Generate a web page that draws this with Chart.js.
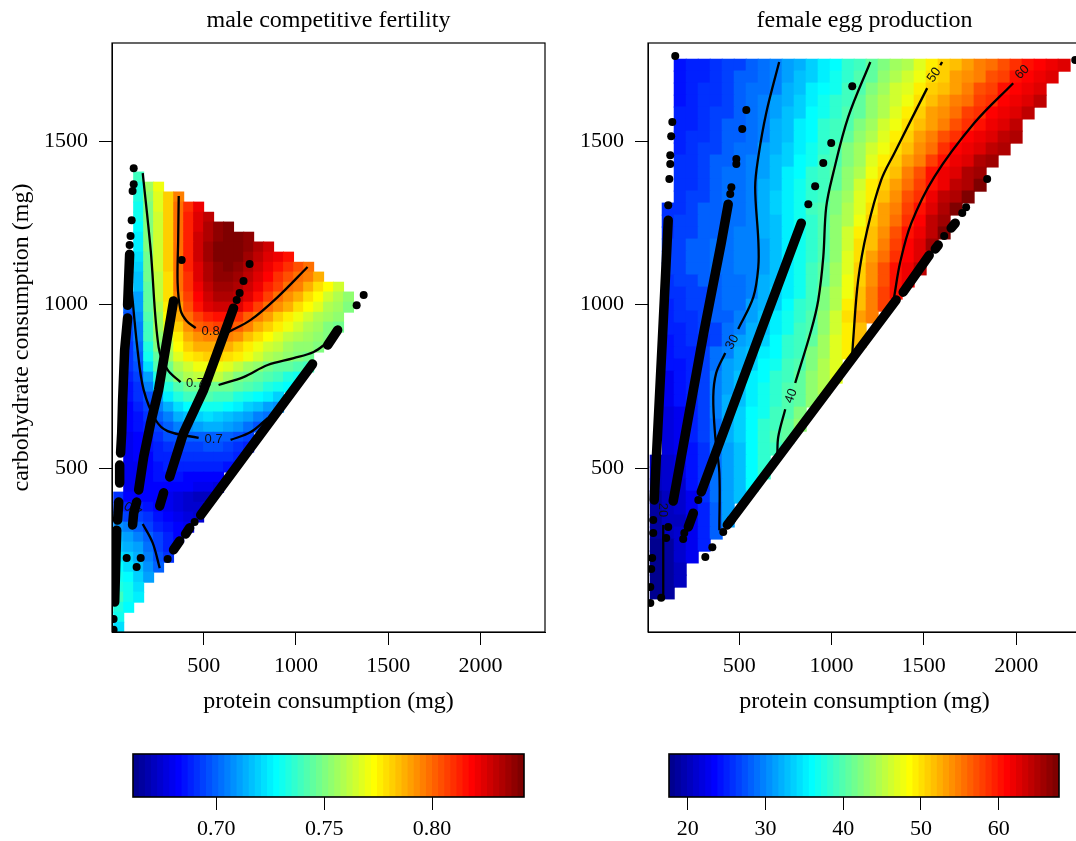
<!DOCTYPE html>
<html><head><meta charset="utf-8">
<script src="https://cdn.jsdelivr.net/npm/chart.js@4/dist/chart.umd.min.js"></script>
<style>html,body{margin:0;padding:0;background:#fff;width:1076px;height:841px;overflow:hidden}
canvas{position:absolute;display:block}</style></head><body>
<canvas id="male" width="657" height="720" style="left:0;top:0"></canvas>
<canvas id="female" width="657" height="720" style="left:536px;top:0"></canvas>
<canvas id="maleBar" width="420" height="101" style="left:120px;top:740px"></canvas>
<canvas id="femaleBar" width="420" height="101" style="left:656px;top:740px"></canvas>
<script>
const xTicks=[500,1000,1500,2000];
const yTicks=[500,1000,1500];
const maleBarTicks=[0.70,0.75,0.80];
const femaleBarTicks=[20,30,40,50,60];
const maleRange=[0.6614,0.8426];
const femaleRange=[17.6,67.76];
// heat grid, protein (mg) columns and carbohydrate (mg) rows
const maleCols=[40,94,148,202,256,310,365,419,473,527,581,635,690,744,798,852,906,960,1015,1069,1123,1177,1231,1285];
const maleRows=[1390,1359,1329,1298,1267,1237,1206,1176,1145,1114,1084,1053,1023,992,961,931,900,870,839,809,778,747,717,686,656,625,594,564,533,503,472,441,411,380,350,319,288,258,227,197,166,135,105,74,44,13];
// male fertility, thousandths
const maleHeat=[
[null,null,738],
[null,null,735,755,770],
[null,null,733,752,768,782,797],
[null,null,732,751,767,782,798,810,820],
[null,null,730,751,766,782,798,812,823,830],
[null,null,728,751,766,782,798,813,825,833,838,840],
[null,null,726,750,766,782,798,813,826,834,839,842,841,838],
[null,null,724,750,765,782,798,813,826,835,840,842,841,838,832,828],
[null,null,722,749,765,781,799,813,826,835,840,841,840,836,830,825,820,815],
[null,null,720,748,764,781,799,813,825,834,839,840,838,833,827,821,816,810,805,800],
[null,null,718,748,763,780,799,811,823,832,837,838,836,831,824,818,810,805,800,795,788],
[null,null,716,746,762,779,798,810,821,830,835,836,833,828,820,813,806,800,795,788,780,772,765],
[null,null,712,745,761,778,795,808,818,827,832,833,829,823,815,807,800,793,786,780,772,765,758,752],
[null,700,710,744,760,775,790,804,815,823,828,828,824,816,807,799,793,786,780,773,767,760,755,750],
[null,698,708,742,757,772,788,799,808,813,815,815,811,802,795,789,783,776,770,765,760,755,752],
[null,696,706,740,755,768,782,793,801,805,806,806,802,795,787,781,776,770,764,759,755,751,748],
[null,694,704,738,752,764,777,787,794,796,797,796,792,785,778,773,768,763,758,755,752,750],
[null,692,702,735,750,760,772,781,786,788,788,787,782,776,771,766,761,757,754,752,751],
[null,690,700,730,745,756,767,775,779,781,781,779,775,770,765,760,756,753,751,749],
[null,690,697,722,742,749,758,766,770,771,770,767,762,757,752,749,746,744,742,740],
[null,688,694,712,733,743,752,758,762,763,762,757,751,747,744,741,738,735,732],
[null,686,692,705,722,734,743,747,749,749,749,748,746,742,738,735,731,728],
[null,685,690,698,712,724,733,738,740,741,740,738,735,731,727,724,720],
[null,684,688,695,705,714,723,727,730,731,730,728,724,720,716,712,708],
[null,683,686,690,699,706,713,717,720,721,720,718,714,710,706,702],
[null,682,685,688,695,700,705,709,712,713,713,711,707,702,698],
[null,681,684,686,691,696,698,699,700,701,701,700,698,695],
[null,681,683,685,689,692,693,694,695,696,696,695,692,688],
[null,680,682,684,687,689,690,690,691,691,691,690,688],
[null,680,681,683,686,687,687,687,687,687,687,685],
[null,680,681,682,685,685,685,684,683,683,682],
[null,680,681,682,684,684,683,682,680,679,678],
[690,682,682,683,682,680,678,675,672,672],
[695,688,688,686,684,681,678,675,673],
[700,695,695,690,686,683,680,677,675],
[708,704,701,694,689,685,682,679],
[714,710,706,700,693,688,684],
[718,715,710,703,695,689],
[722,719,713,706,697,690],
[727,723,716,708,700],
[731,727,719,710],
[735,730,722],
[738,732,724],
[735,729],
[730],
[722]];
const femaleCols=[50,115,180,245,310,375,440,505,570,635,700,765,830,895,960,1025,1090,1155,1220,1285,1350,1415,1480,1545,1610,1675,1740,1805,1870,1935,2000,2065,2130,2195,2260];
const femaleRows=[1732,1696,1659,1622,1586,1549,1512,1476,1439,1402,1365,1329,1292,1255,1219,1182,1145,1109,1072,1035,998,962,925,888,852,815,778,742,705,668,631,595,558,521,485,448,411,375,338,301,264,228,191,154,118];
const femaleHeat=[
[null,null,24,25,25,26,27,27,28,29,30,31,32,34,35,36,38,39,41,42,44,45,47,49,51,52,53,55,56,57,59,60,61,62,63],
[null,null,24,25,25,26,27,28,28,29,30,31,33,34,35,37,38,40,41,43,45,46,48,50,51,53,54,55,57,58,60,61,62,63],
[null,null,24,25,26,26,27,28,29,29,30,32,33,35,36,37,39,40,42,44,46,47,49,51,52,53,55,57,58,60,61,62,63],
[null,null,24,25,26,26,27,28,29,30,31,32,34,35,37,38,39,41,43,45,46,48,50,52,53,55,56,58,59,61,62,63,64],
[null,null,25,25,26,27,27,28,29,30,31,33,34,36,37,38,40,41,43,45,47,49,51,53,54,56,58,59,61,62,63,64],
[null,null,25,25,26,27,28,28,29,30,32,33,35,36,38,39,40,42,44,46,48,50,52,53,55,57,59,60,62,63,64],
[null,null,25,26,26,27,28,28,29,30,32,33,35,36,38,39,41,43,45,47,49,51,53,55,57,59,61,62,63,64,65],
[null,null,25,26,27,27,28,29,29,31,32,34,35,37,38,40,42,44,46,48,50,52,54,56,59,61,62,63,64,65],
[null,null,26,26,27,28,28,29,30,31,33,34,36,37,39,40,42,44,47,49,51,53,55,58,60,62,63,65,66],
[null,null,26,26,27,28,29,29,30,31,33,35,36,38,39,41,43,45,48,50,52,55,57,60,62,63,65,66],
[null,null,26,26,27,28,29,29,30,32,33,35,37,38,39,41,43,46,49,51,53,56,58,60,62,64,65,67],
[null,null,26,27,27,28,29,29,30,32,34,35,37,38,39,42,44,47,49,52,54,57,59,62,64,65,67],
[null,26,26,27,28,28,29,29,30,32,34,35,37,39,40,42,45,47,50,53,55,58,60,63,65,67],
[null,26,27,27,28,28,29,29,30,32,33,35,37,38,40,43,45,48,51,53,56,59,61,64,66],
[null,26,27,27,28,28,29,30,30,32,33,35,37,38,40,43,46,49,52,54,57,60,62,64,67],
[null,27,27,28,28,29,29,30,30,31,33,35,37,38,40,43,46,50,52,55,58,61,63,66],
[null,27,27,28,28,29,29,30,30,31,33,35,37,38,40,43,47,50,53,56,59,61,63],
[null,27,27,28,28,29,29,30,30,31,33,35,37,39,41,44,47,51,54,57,60,62,64],
[null,26,27,27,28,28,29,29,30,32,33,35,37,39,41,44,48,51,54,57,60,62],
[null,26,26,27,27,28,29,29,30,32,34,35,37,39,42,45,48,52,55,58,60],
[null,25,26,27,27,28,29,29,31,32,34,36,38,39,42,45,49,52,55,58],
[null,25,26,26,27,28,28,30,31,33,35,37,38,40,43,46,50,53,55],
[null,25,25,26,27,27,29,30,32,33,35,37,39,40,43,46,49,52],
[null,24,25,26,26,27,29,31,32,34,36,38,39,41,44,47,49,52],
[null,24,25,25,27,29,30,32,33,35,36,38,39,42,44,47,49],
[null,24,24,25,27,29,31,32,34,36,37,39,40,42,45,47],
[null,23,24,25,27,30,31,33,35,36,38,39,41,43,45,47],
[null,23,24,25,27,30,31,33,35,37,38,40,41,43,45],
[null,23,24,25,27,30,32,33,35,37,38,40,41,43],
[null,22,23,25,27,30,32,34,36,37,39,40,42],
[null,22,23,25,27,29,32,34,36,38,39,41,43],
[null,22,23,25,27,29,32,34,36,38,40,41],
[null,22,23,24,26,29,31,33,36,38,39],
[20,21,22,24,26,29,31,33,36,38],
[20,21,22,24,26,29,31,33,36,38],
[20,21,21,24,26,29,31,33,36],
[19,20,21,23,26,29,31,33],
[19,20,21,23,25,28,31],
[19,20,20,23,25,28,31],
[19,20,21,23,25,28],
[18,19,21,23,25],
[18,19,21,23],
[18,19,20],
[18,19,20],
[18,19]];
// scattered diet observations: isolated dots and dense runs (protein mg, carbohydrate mg)
const maleDots=[[121,1417],[121,1368],[115,1347],[110,1258],[104,1210],[99,1182],[12,38],[12,5],[381,1136],[83,225],[159,225],[137,197],[749,1124],[716,1072],[695,1035],[679,1014],[1367,1029],[1329,998],[451,335],[305,222]];
const maleRuns=[
[[99,1154],[88,998]],
[[88,959],[72,861],[61,708],[56,607],[50,546]],
[[45,509],[45,454]],
[[40,396],[34,341]],
[[29,310],[18,90]],
[[337,1011],[256,739],[213,638],[175,534],[148,433]],
[[137,396],[121,362],[115,326]],
[[662,989],[500,739],[391,607],[316,473]],
[[283,424],[262,384]],
[[1226,922],[1172,876]],
[[1090,818],[484,356]],
[[424,317],[402,298]],
[[370,277],[337,250]]];
const femaleDots=[[153,1760],[137,1558],[131,1515],[126,1457],[126,1430],[121,1384],[115,1304],[34,341],[34,301],[28,225],[23,191],[18,136],[18,87],[538,1595],[516,1537],[484,1445],[484,1430],[457,1359],[451,1338],[115,320],[104,286],[77,103],[1112,1668],[998,1494],[955,1433],[911,1362],[874,1307],[278,402],[202,301],[196,283],[2320,1748],[1843,1384],[1729,1298],[1708,1280],[1610,1210],[413,304],[354,258],[316,228]];
const femaleRuns=[
[[115,1258],[83,891],[39,402]],
[[440,1307],[402,1188],[310,922],[142,399]],
[[836,1249],[619,922],[294,427]],
[[251,362],[224,320]],
[[1670,1249],[1648,1234]],
[[1578,1182],[1562,1170]],
[[1529,1151],[1388,1038]],
[[1350,1014],[456,341]],
[[456,341],[435,326]]];
// contour lines
const maleC80a=[[365,1332],[362,1197],[359,1066],[375,983],[408,950],[457,928]];
const maleC80b=[[635,916],[755,953],[901,1023],[1063,1115]];
const maleC75a=[[170,1402],[213,1167],[256,870],[305,800],[375,763]];
const maleC75b=[[581,754],[716,778],[847,815],[988,836],[1096,855],[1172,885]];
const maleC70a=[[104,1084],[142,861],[175,739],[240,647],[305,613],[473,592]];
const maleC70b=[[646,586],[755,610],[847,653]];
const maleC70c=[[170,329],[224,271],[262,194]];
const femC20=[[88,326],[88,106]];
const femC30a=[[716,1742],[646,1586],[603,1451],[586,1359],[603,1197],[603,1115],[576,1023],[494,925]];
const femC30b=[[424,852],[375,791],[359,717],[370,595],[392,485],[392,310]];
const femC40a=[[1210,1742],[1090,1573],[1009,1402],[971,1298],[955,1145],[928,1014],[890,922],[803,760]];
const femC40b=[[749,680],[711,595],[706,540]];
const femC50a=[[1112,846],[1117,891],[1144,1075],[1193,1228],[1269,1381],[1340,1463],[1518,1662]];
const femC50b=[[1589,1732],[1599,1742]];
const femC60=[[1339,1023],[1372,1130],[1432,1249],[1556,1390],[1773,1555],[1984,1677]];
const maleLabels=[["0.8",538,919,0],["0.75",473,760,0],["0.7",554,589,0],["0.7",115,372,30]];
const femaleLabels=[["20",83,372,90],["30",462,885,-62],["40",781,720,-70],["50",1556,1702,-55],["60",2033,1711,-45]];

const SERIF='"Liberation Serif","Times New Roman",serif';
const TICK=22, TITLE=24;
function jet(v,r){let i=Math.floor((v-r[0])/(r[1]-r[0])*64);i=Math.max(0,Math.min(63,i));
 const R=i<24?0:i<40?(i-23)*16:i<56?255:255-(i-55)*16;
 const G=i<8?0:i<24?(i-7)*16:i<40?255:i<56?255-(i-39)*16:0;
 const B=i<8?143+i*16:i<24?255:i<40?255-(i-23)*16:0;
 const c=x=>Math.max(0,Math.min(255,x));
 return `rgb(${c(R)},${c(G)},${c(B)})`;}
const pts=a=>a.map(p=>({x:p[0],y:p[1]}));
const box={id:'box',afterDraw(c){const a=c.chartArea,x=c.ctx;x.save();x.strokeStyle='#000';x.lineWidth=c.options.boxWidth||1.2;x.strokeRect(a.left,a.top,a.width,a.height);x.restore();}};
function panel(id,opt){
 const cells=[],colors=[];
 opt.heat.forEach((row,j)=>row.forEach((v,i)=>{if(v==null)return;
  cells.push({x:opt.cols[i],y:opt.rows[j]});colors.push(jet(v*opt.scale,opt.range));}));
 const ds=[];
 ds.push({label:'dots',data:pts(opt.dots),showLine:false,pointRadius:4,backgroundColor:'#000',borderWidth:0,clip:0});
 opt.runs.forEach((r,i)=>ds.push({label:'run'+i,data:pts(r),showLine:true,borderColor:'#000',borderWidth:9.5,borderCapStyle:'round',borderJoinStyle:'round',pointRadius:0,clip:0}));
 const contourStart=ds.length;
 opt.contours.forEach((r,i)=>ds.push({label:'contour'+i,data:pts(r),showLine:true,borderColor:'#000',borderWidth:2.3,tension:0.35,pointRadius:0,clip:0}));
 ds.push({label:'surface',data:cells,showLine:false,pointStyle:'rect',pointRadius:opt.cell/2/Math.SQRT1_2,backgroundColor:colors,borderWidth:0,clip:0});
 const labelPlugin={id:'cl',afterDatasetDraw(c,args){if(args.index!==contourStart)return;
  const x=c.ctx;x.save();x.fillStyle='#111';x.font='13px "Liberation Sans",Arial,sans-serif';x.textAlign='center';x.textBaseline='middle';
  opt.labels.forEach(l=>{x.save();x.translate(c.scales.x.getPixelForValue(l[1]),c.scales.y.getPixelForValue(l[2]));x.rotate(l[3]*Math.PI/180);x.fillText(l[0],0,0);x.restore();});x.restore();}};
 const yTitle=opt.yTitle?{display:true,text:opt.yTitle,color:'#000',font:{family:SERIF,size:TITLE},padding:{top:7.6,bottom:0}}:{display:false};
 new Chart(document.getElementById(id),{type:'scatter',data:{datasets:ds},plugins:[box,labelPlugin],options:{
  responsive:false,animation:false,events:[],
  plugins:{legend:{display:false},tooltip:{enabled:false},
   title:{display:true,text:opt.title,color:'#000',font:{family:SERIF,size:TITLE,weight:'normal'},padding:{top:6.6,bottom:7.6}}},
  scales:{
   x:{type:'linear',min:opt.xMin,max:opt.xMin+2346,grid:{drawOnChartArea:false,drawTicks:true,tickLength:13,color:'#000',tickColor:'#000'},border:{color:'#000'},
    afterBuildTicks:s=>{s.ticks=xTicks.map(v=>({value:v}));},afterFit:s=>{s.height=88;},
    ticks:{autoSkip:false,maxRotation:0,color:'#000',padding:8,font:{family:SERIF,size:TICK},callback:v=>String(v)},
    title:{display:true,text:'protein consumption (mg)',color:'#000',font:{family:SERIF,size:TITLE},padding:{top:0,bottom:3.6}}},
   y:{type:'linear',min:-1.5,max:1800,grid:{drawOnChartArea:false,drawTicks:true,tickLength:13,color:'#000',tickColor:'#000'},border:{color:'#000'},
    afterBuildTicks:s=>{s.ticks=yTicks.map(v=>({value:v}));},afterFit:s=>{s.width=112;},
    ticks:{autoSkip:false,color:'#000',padding:11,font:{family:SERIF,size:TICK},callback:v=>String(v)},
    title:yTitle},
   ghost:{type:'linear',position:'right',axis:'y',display:true,grid:{display:false},border:{display:false},ticks:{display:false},afterFit:s=>{s.width=112;}}
  }}});
}
panel('male',{title:'male competitive fertility',yTitle:'carbohydrate consumption (mg)',xMin:3.5,heat:maleHeat,cols:maleCols,rows:maleRows,scale:0.001,range:maleRange,cell:11,dots:maleDots,runs:maleRuns,
 contours:[maleC80a,maleC80b,maleC75a,maleC75b,maleC70a,maleC70b,maleC70c],labels:maleLabels});
panel('female',{title:'female egg production',xMin:5.4,heat:femaleHeat,cols:femaleCols,rows:femaleRows,scale:1,range:femaleRange,cell:13,dots:femaleDots,runs:femaleRuns,
 contours:[femC20,femC30a,femC30b,femC40a,femC40b,femC50a,femC50b,femC60],labels:femaleLabels});
function colorbar(id,range,ticks,fmt,padL,padR){
 const ds=[];const n=64,st=(range[1]-range[0])/n;
 for(let i=0;i<n;i++){const lo=range[0]+i*st;
  ds.push({label:'level'+i,data:[[lo,Math.min(range[1],lo+st*1.25)]],backgroundColor:jet(lo+st/2,range),borderWidth:0,grouped:false,barPercentage:1,categoryPercentage:1,order:-i});}
 new Chart(document.getElementById(id),{type:'bar',data:{labels:['scale'],datasets:ds},plugins:[box],options:{
  indexAxis:'y',responsive:false,animation:false,events:[],boxWidth:1.6,
  layout:{padding:{left:padL,right:padR,top:14,bottom:0}},
  plugins:{legend:{display:false},tooltip:{enabled:false},title:{display:false}},
  scales:{
   x:{type:'linear',min:range[0],max:range[1],grid:{drawOnChartArea:false,drawTicks:true,tickLength:13,color:'#000',tickColor:'#000'},border:{display:false},
    afterBuildTicks:s=>{s.ticks=ticks.map(v=>({value:v}));},afterFit:s=>{s.height=44;},
    ticks:{autoSkip:false,maxRotation:0,color:'#000',padding:6,font:{family:SERIF,size:TICK},callback:fmt}},
   y:{display:false}
  }}});
}
colorbar('maleBar',maleRange,maleBarTicks,v=>v.toFixed(2),13,16);
colorbar('femaleBar',femaleRange,femaleBarTicks,v=>String(v),13,17);
</script></body></html>
